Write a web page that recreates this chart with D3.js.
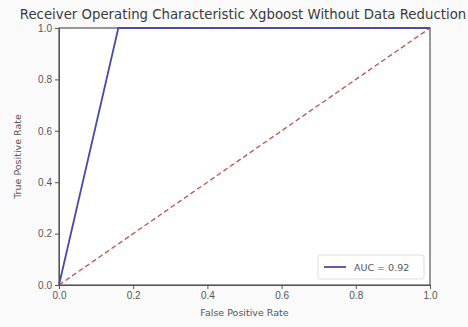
<!DOCTYPE html>
<html>
<head>
<meta charset="utf-8">
<script src="https://cdn.jsdelivr.net/npm/d3@7"></script>
<style>
  body { margin: 0; background: #f7f7f7; }
  svg { display: block; font-family: "DejaVu Sans", sans-serif; }
  .axis path, .axis line { stroke: #555; }
  .axis text { fill: #555; font-size: 10px; }
</style>
</head>
<body>
<script>
// ROC curve points
const fpr = [0, 0.16, 1];
const tpr = [0, 1, 1];
// chance diagonal
const diagX = [0, 1];
const diagY = [0, 1];
const ticks = [0, 0.2, 0.4, 0.6, 0.8, 1.0];
const aucLabel = "AUC = 0.92";

const W = 468, H = 327;
const margin = { top: 28, right: 38, bottom: 42, left: 59 };
const width = W - margin.left - margin.right;
const height = H - margin.top - margin.bottom;

const svg = d3.select("body").append("svg")
    .attr("width", W)
    .attr("height", H);

svg.append("rect").attr("width", W).attr("height", H).attr("fill", "#fafafa");

svg.append("text")
    .attr("x", 243)
    .attr("y", 19)
    .attr("text-anchor", "middle")
    .style("font-size", "13.3px")
    .style("fill", "#3a3a3a")
    .text("Receiver Operating Characteristic Xgboost Without Data Reduction");

const g = svg.append("g")
    .attr("transform", "translate(" + margin.left + "," + margin.top + ")");

g.append("rect").attr("width", width).attr("height", height).attr("fill", "#fff");

const x = d3.scaleLinear().domain([0, 1]).range([0, width]);
const y = d3.scaleLinear().domain([0, 1]).range([height, 0]);

g.append("g")
    .attr("class", "axis")
    .attr("transform", "translate(0," + height + ")")
    .call(d3.axisBottom(x).tickValues(ticks).tickFormat(d3.format(".1f")).tickSize(4).tickSizeOuter(0));

g.append("g")
    .attr("class", "axis")
    .call(d3.axisLeft(y).tickValues(ticks).tickFormat(d3.format(".1f")).tickSize(4).tickSizeOuter(0));

// frame
g.append("rect")
    .attr("width", width).attr("height", height)
    .attr("fill", "none").attr("stroke", "#555").attr("stroke-width", 1.2);

const line = d3.line()
    .x(d => x(d[0]))
    .y(d => y(d[1]));

g.append("path")
    .datum(diagX.map((v, i) => [v, diagY[i]]))
    .attr("d", line)
    .attr("fill", "none")
    .attr("stroke", "#c0504d")
    .attr("stroke-width", 1.3)
    .attr("stroke-dasharray", "5,3");

g.append("path")
    .datum(fpr.map((v, i) => [v, tpr[i]]))
    .attr("d", line)
    .attr("fill", "none")
    .attr("stroke", "#4b4ba8")
    .attr("stroke-width", 1.8);

// axis labels
svg.append("text")
    .attr("x", margin.left + width / 2)
    .attr("y", H - 11)
    .attr("text-anchor", "middle")
    .style("font-size", "9.5px")
    .style("fill", "#555")
    .text("False Positive Rate");

svg.append("text")
    .attr("transform", "translate(21," + (margin.top + height / 2) + ") rotate(-90)")
    .attr("text-anchor", "middle")
    .style("font-size", "9.5px")
    .style("fill", "#555")
    .text("True Positive Rate");

// legend
const lg = g.append("g").attr("transform", "translate(" + (width - 112) + "," + (height - 30) + ")");
lg.append("rect")
    .attr("width", 106).attr("height", 24).attr("rx", 2)
    .attr("fill", "#fff").attr("stroke", "#ddd");
lg.append("line")
    .attr("x1", 6).attr("x2", 28).attr("y1", 12).attr("y2", 12)
    .attr("stroke", "#4b4ba8").attr("stroke-width", 1.8);
lg.append("text")
    .attr("x", 36).attr("y", 15.5)
    .style("font-size", "9.5px").style("fill", "#555")
    .text(aucLabel);
</script>
</body>
</html>
